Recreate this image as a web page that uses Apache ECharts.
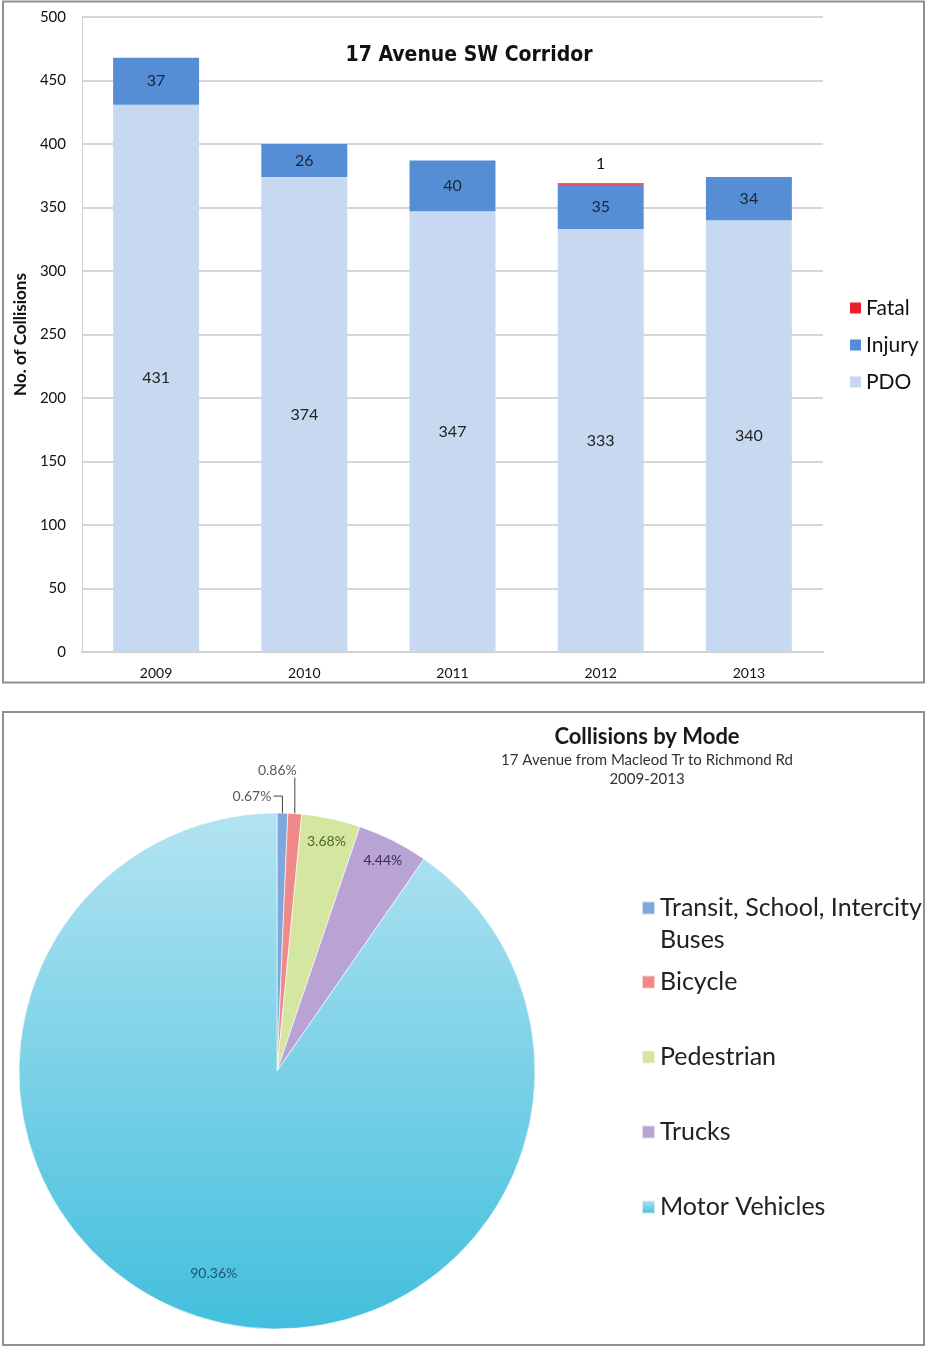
<!DOCTYPE html>
<html>
<head>
<meta charset="utf-8">
<script src="https://cdn.jsdelivr.net/npm/echarts@6/dist/echarts.min.js"></script>
<style>
html,body{margin:0;padding:0;background:#fff;}
#chart{width:925px;height:1347px;}
</style>
</head>
<body>
<div id="chart"></div>
<script>
// ---- data ----
const years = ['2009', '2010', '2011', '2012', '2013'];
const pdo = [431, 374, 347, 333, 340];
const injury = [37, 26, 40, 35, 34];
const fatal = [0, 0, 0, 1, 0];
const barTitle = '17 Avenue SW Corridor';
const yAxisName = 'No. of Collisions';

const modes = ['Transit, School, Intercity Buses', 'Bicycle', 'Pedestrian', 'Trucks', 'Motor Vehicles'];
const modeShares = [0.67, 0.86, 3.68, 4.44, 90.36];
const pieTitle = 'Collisions by Mode';
const pieSubtitle = ['17 Avenue from Macleod Tr to Richmond Rd', '2009-2013'];

// ---- styles ----
const FONT = 'Lato';
const modeColors = [
  '#7fa7db', '#f0898a', '#d5e6a0', '#b9a3d5',
  new echarts.graphic.LinearGradient(0, 0, 0, 1, [
    {offset: 0, color: '#b3e3f2'}, {offset: 1, color: '#42bfdd'}
  ])
];
const modeLabelColors = ['#595959', '#595959', '#4b6a1c', '#3b2a5c', '#1c5670'];
const pieCenter = [277, 1071];
const pieR = 258;

const chart = echarts.init(document.getElementById('chart'), null, {renderer: 'canvas'});

const pct = v => v.toFixed(2) + '%';

function overlayData(showIdx) {
  return modes.map((n, i) => ({
    name: n, value: modeShares[i],
    label: {show: showIdx.indexOf(i) >= 0, color: modeLabelColors[i]}
  }));
}

const option = {
  animation: false,
  backgroundColor: '#fff',
  graphic: [
    {type: 'rect', shape: {x: 3, y: 1.5, width: 921, height: 681}, style: {fill: 'none', stroke: '#8f8f8f', lineWidth: 2}, silent: true},
    {type: 'rect', shape: {x: 3, y: 712, width: 921, height: 633}, style: {fill: 'none', stroke: '#8f8f8f', lineWidth: 2}, silent: true}
  ],
  title: [
    {text: barTitle, left: 469, top: 44, textAlign: 'center', padding: 0,
     textStyle: {fontFamily: "'Liberation Sans Narrow', 'DejaVu Sans Condensed', Roboto, sans-serif", fontWeight: 'bold', fontSize: 21, lineHeight: 24, color: '#111'}},
    {text: pieTitle, subtext: pieSubtitle.join('\n'), left: 647, top: 725, textAlign: 'center', itemGap: 2, padding: 0,
     textStyle: {fontFamily: FONT, fontWeight: 'bold', fontSize: 22, lineHeight: 24, color: '#1a1a1a'},
     subtextStyle: {fontFamily: FONT, fontSize: 15, lineHeight: 19, color: '#333'}}
  ],
  legend: [
    {orient: 'vertical', left: 850, top: 296, padding: 0, itemGap: 13, itemWidth: 11, itemHeight: 11, icon: 'rect',
     data: ['Fatal', 'Injury', 'PDO'],
     textStyle: {fontFamily: FONT, fontSize: 21, lineHeight: 24, color: '#111'}},
    {orient: 'vertical', left: 641, top: 860, padding: 0, itemGap: -23, itemWidth: 13, itemHeight: 13, icon: 'rect',
     data: modes.map((n, i) => ({name: n, textStyle: {lineHeight: i === 0 ? 32 : 98}})),
     formatter: name => name === modes[0] ? '\nTransit, School, Intercity\nBuses' : name,
     textStyle: {fontFamily: FONT, fontSize: 25, color: '#222'}}
  ],
  grid: {left: 82, right: 102, top: 17, bottom: 695, containLabel: false},
  xAxis: {
    type: 'category', data: years,
    axisLine: {lineStyle: {color: '#d0d0d0', width: 2}},
    axisTick: {show: false},
    axisLabel: {fontFamily: FONT, fontSize: 14, color: '#111', margin: 14}
  },
  yAxis: {
    type: 'value', min: 0, max: 500, interval: 50,
    name: yAxisName, nameLocation: 'middle', nameGap: 51,
    nameTextStyle: {fontFamily: FONT, fontWeight: 'bold', fontSize: 17, color: '#111'},
    axisLine: {show: true, lineStyle: {color: '#d0d0d0', width: 1}},
    axisTick: {show: false},
    axisLabel: {fontFamily: FONT, fontSize: 15, color: '#111', margin: 16},
    splitLine: {lineStyle: {color: '#d6d6d6', width: 2}}
  },
  series: [
    {name: 'PDO', type: 'bar', stack: 'total', data: pdo, barWidth: '58%',
     itemStyle: {color: '#c6d9f1'},
     label: {show: true, position: 'inside', fontFamily: FONT, fontSize: 16, color: '#222'}},
    {name: 'Injury', type: 'bar', stack: 'total', data: injury,
     itemStyle: {color: '#558ed5'},
     label: {show: true, position: 'inside', fontFamily: FONT, fontSize: 16, color: '#1b2538'}},
    {name: 'Fatal', type: 'bar', stack: 'total', data: fatal,
     itemStyle: {color: '#e8202a'},
     label: {show: true, position: 'top', distance: 12, fontFamily: FONT, fontSize: 16, color: '#111',
             formatter: p => p.value > 0 ? String(p.value) : ''}},
    {name: 'mode', type: 'pie', center: pieCenter, radius: [0, pieR], startAngle: 90, clockwise: true,
     avoidLabelOverlap: false, silent: true,
     itemStyle: {borderColor: 'rgba(255,255,255,0.6)', borderWidth: 1},
     data: modes.map((n, i) => ({
       name: n, value: modeShares[i],
       itemStyle: {color: modeColors[i]},
       label: {show: i < 2},
       labelLine: {show: i < 2}
     })),
     label: {position: 'outside', fontFamily: FONT, fontSize: 14, color: '#595959', formatter: p => pct(p.value)},
     labelLine: {length: 20, length2: 10, lineStyle: {color: '#404040', width: 1}},
     labelLayout: function (params) {
       const pts = params.labelLinePoints;
       if (!pts || !pts[0]) return {};
       const p = pts[0];
       if (params.dataIndex === 0) {
         return {x: p[0] - 11, y: p[1] - 17, align: 'right', verticalAlign: 'middle',
                 labelLinePoints: [[p[0], p[1]], [p[0], p[1] - 17], [p[0] - 9, p[1] - 17]]};
       }
       if (params.dataIndex === 1) {
         return {x: p[0] + 2, y: p[1] - 36, align: 'right', verticalAlign: 'bottom',
                 labelLinePoints: [[p[0], p[1]], [p[0], p[1] - 36]]};
       }
       return {};
     }},
    {name: 'modeLabelsA', type: 'pie', center: pieCenter, radius: [pieR * 0.8, pieR], startAngle: 90,
     silent: true, avoidLabelOverlap: false, emphasis: {disabled: true},
     itemStyle: {color: 'rgba(0,0,0,0)', borderWidth: 0},
     label: {position: 'inside', fontFamily: FONT, fontSize: 14, formatter: p => pct(p.value)},
     labelLine: {show: false},
     data: overlayData([2, 3])},
    {name: 'modeLabelsB', type: 'pie', center: pieCenter, radius: [pieR * 0.62, pieR], startAngle: 90,
     silent: true, avoidLabelOverlap: false, emphasis: {disabled: true},
     itemStyle: {color: 'rgba(0,0,0,0)', borderWidth: 0},
     label: {position: 'inside', fontFamily: FONT, fontSize: 14, formatter: p => pct(p.value)},
     labelLine: {show: false},
     data: overlayData([4])}
  ]
};
chart.setOption(option);
</script>
</body>
</html>
